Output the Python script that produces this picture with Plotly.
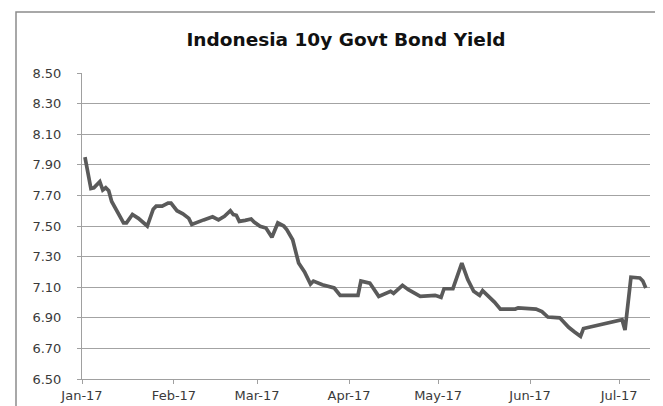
import plotly.graph_objects as go

dates = [
    "2017-01-02", "2017-01-04", "2017-01-05", "2017-01-07", "2017-01-08", "2017-01-09",
    "2017-01-10", "2017-01-11", "2017-01-15", "2017-01-16", "2017-01-18", "2017-01-20",
    "2017-01-23", "2017-01-25", "2017-01-26", "2017-01-28", "2017-01-30", "2017-01-31",
    "2017-02-02", "2017-02-04", "2017-02-06", "2017-02-07", "2017-02-11", "2017-02-14",
    "2017-02-16", "2017-02-18", "2017-02-20", "2017-02-21", "2017-02-22", "2017-02-23",
    "2017-02-25", "2017-02-27", "2017-02-28", "2017-03-02", "2017-03-04", "2017-03-05",
    "2017-03-06", "2017-03-08", "2017-03-10", "2017-03-11", "2017-03-13", "2017-03-15",
    "2017-03-17", "2017-03-19", "2017-03-20", "2017-03-23", "2017-03-27", "2017-03-29",
    "2017-04-04", "2017-04-05", "2017-04-08", "2017-04-11", "2017-04-14", "2017-04-15",
    "2017-04-16", "2017-04-19", "2017-04-21", "2017-04-25", "2017-04-30", "2017-05-02",
    "2017-05-03", "2017-05-06", "2017-05-09", "2017-05-11", "2017-05-13", "2017-05-15",
    "2017-05-16", "2017-05-18", "2017-05-20", "2017-05-22", "2017-05-27", "2017-05-28",
    "2017-06-03", "2017-06-05", "2017-06-07", "2017-06-11", "2017-06-14", "2017-06-16",
    "2017-06-18", "2017-06-19", "2017-07-02", "2017-07-03", "2017-07-05", "2017-07-08",
    "2017-07-09", "2017-07-10",
]

yields = [
    7.95, 7.745, 7.75, 7.79, 7.735, 7.75,
    7.73, 7.66, 7.52, 7.52, 7.575, 7.55,
    7.50, 7.61, 7.63, 7.63, 7.65, 7.65,
    7.60, 7.58, 7.55, 7.51, 7.54, 7.56,
    7.54, 7.563, 7.60, 7.575, 7.57, 7.53,
    7.537, 7.546, 7.526, 7.498, 7.487, 7.46,
    7.426, 7.52, 7.50, 7.476, 7.41, 7.258,
    7.20, 7.12, 7.14, 7.116, 7.095, 7.047,
    7.047, 7.14, 7.127, 7.04, 7.06, 7.073,
    7.06, 7.112, 7.084, 7.04, 7.047, 7.034,
    7.09, 7.09, 7.258, 7.15, 7.073, 7.047,
    7.077, 7.04, 7.003, 6.957, 6.957, 6.965,
    6.957, 6.94, 6.905, 6.90, 6.838, 6.807,
    6.779, 6.83, 6.888, 6.82, 7.165, 7.16,
    7.14, 7.095,
]

title_text = "Indonesia 10y Govt Bond Yield"
y_ticks = [6.50, 6.70, 6.90, 7.10, 7.30, 7.50, 7.70, 7.90, 8.10, 8.30, 8.50]
x_ticks = ["2017-01-01", "2017-02-01", "2017-03-01", "2017-04-01",
           "2017-05-01", "2017-06-01", "2017-07-01"]
x_tick_labels = ["Jan-17", "Feb-17", "Mar-17", "Apr-17", "May-17", "Jun-17", "Jul-17"]

W, H = 663, 406
L, R, T, B = 74, 21, 65, 35
pw, ph = W - L - R, H - T - B

fig = go.Figure()
fig.add_trace(go.Scatter(
    x=dates, y=yields, mode="lines",
    line=dict(color="#5a5a5a", width=3.7),
    hoverinfo="skip", showlegend=False,
))

font_family = "DejaVu Sans"

fig.update_layout(
    width=W, height=H,
    margin=dict(l=L, r=R, t=T, b=B, pad=0),
    paper_bgcolor="white", plot_bgcolor="white",
    title=dict(text=title_text, x=(338 - L) / pw, xref="paper", xanchor="center",
               y=1 - 32 / H, yref="container", yanchor="middle",
               font=dict(family=font_family, size=18.5, color="#111111",
                         weight="bold")),
    font=dict(family=font_family, size=13, color="#3a3a3a"),
    xaxis=dict(
        type="date", range=["2017-01-01", "2017-07-11 10:00"],
        tickmode="array", tickvals=x_ticks, ticktext=x_tick_labels,
        showgrid=False, zeroline=False,
        showline=True, linecolor="#a0a0a0", linewidth=1,
        ticks="outside", ticklen=4, tickcolor="#a0a0a0", tickwidth=1,
        tickfont=dict(family=font_family, size=13, color="#3a3a3a"),
    ),
    yaxis=dict(
        range=[6.5, 8.5], tickmode="array", tickvals=y_ticks,
        ticktext=[f"{v:.2f}" for v in y_ticks],
        showgrid=True, gridcolor="#a3a3a3", gridwidth=1,
        zeroline=False,
        showline=True, linecolor="#a0a0a0", linewidth=1,
        ticks="outside", ticklen=4, tickcolor="#a0a0a0", tickwidth=1,
        ticklabelstandoff=13,
        tickfont=dict(family=font_family, size=13, color="#3a3a3a"),
    ),
    shapes=[dict(
        type="rect", xref="paper", yref="paper",
        x0=(8 - L) / pw, x1=(660 - L) / pw,
        y0=(H - B - 420) / ph, y1=(H - B - 4) / ph,
        line=dict(color="#8c8c8c", width=1.5), fillcolor="rgba(0,0,0,0)",
        layer="below",
    )],
)

fig.write_html("out.html")
